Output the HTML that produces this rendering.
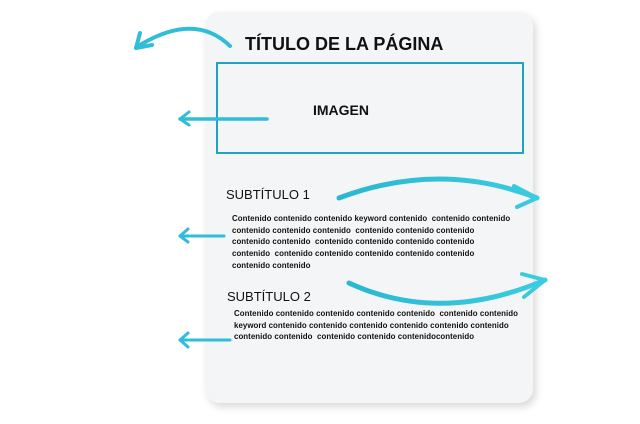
<!DOCTYPE html><html><head><style>
body{margin:0;width:640px;height:424px;background:#fff;position:relative;overflow:hidden;font-family:"Liberation Sans",sans-serif;color:#111}
.card{position:absolute;left:205px;top:12px;width:328px;height:391px;background:#f4f5f7;border-radius:14px;box-shadow:3px 4px 8px rgba(0,0,0,0.15)}
.a{position:absolute;white-space:nowrap}
.c{position:absolute;font-size:7.9px;font-weight:bold;line-height:11.7px;white-space:pre;letter-spacing:0.05px}
</style></head><body>
<div class="card"></div>
<div class="a" style="left:245px;top:34px;font-size:18px;font-weight:bold">TÍTULO DE LA PÁGINA</div>
<div class="a" style="left:216px;top:62px;width:304px;height:88px;border:2px solid #1ea3c4"></div>
<div class="a" style="left:313px;top:102px;font-size:14px;font-weight:bold">IMAGEN</div>
<div class="a" style="left:226px;top:187px;font-size:13px">SUBTÍTULO 1</div>
<div class="c" style="left:232px;top:213px">Contenido contenido contenido keyword contenido  contenido contenido
contenido contenido contenido  contenido contenido contenido
contenido contenido  contenido contenido contenido contenido
contenido  contenido contenido contenido contenido contenido
contenido contenido</div>
<div class="a" style="left:227px;top:289px;font-size:13px">SUBTÍTULO 2</div>
<div class="c" style="left:234px;top:308px">Contenido contenido contenido contenido contenido  contenido contenido
keyword contenido contenido contenido contenido contenido contenido
contenido contenido  contenido contenido contenidocontenido</div>
<svg width="640" height="424" style="position:absolute;left:0;top:0" fill="none" stroke-linecap="round" stroke-linejoin="round">
<defs><linearGradient id="g" gradientUnits="userSpaceOnUse" x1="130" y1="0" x2="550" y2="0"><stop offset="0" stop-color="#1a9fc2"/><stop offset="1" stop-color="#3ccde0"/></linearGradient></defs>
<g stroke="#2fbdd8">
<path d="M230 46 Q195 12 140 45" stroke-width="4"/>
<path d="M136 48 L140 33 M136 48 L152 45" stroke-width="4"/>
<path d="M267 119 L180 119" stroke-width="3.5"/>
<path d="M180 119 L189 112 M180 119 L189 125" stroke-width="3"/>
<path d="M224 236 L180 236" stroke-width="3"/>
<path d="M180 236 L188 229 M180 236 L188 242" stroke-width="3"/>
<path d="M230 340 L180 340" stroke-width="3"/>
<path d="M180 340 L188 333 M180 340 L188 347" stroke-width="3"/>
</g>
<g stroke="url(#g)">
<path d="M339 198 Q440 160 537 198" stroke-width="5"/>
<path d="M537 198 L514 186 M537 198 L517 207" stroke-width="4"/>
<path d="M349 283 Q440 325 545 280" stroke-width="5"/>
<path d="M545 280 L522 274 M545 280 L524 297" stroke-width="4"/>
</g></svg>
</body></html>
